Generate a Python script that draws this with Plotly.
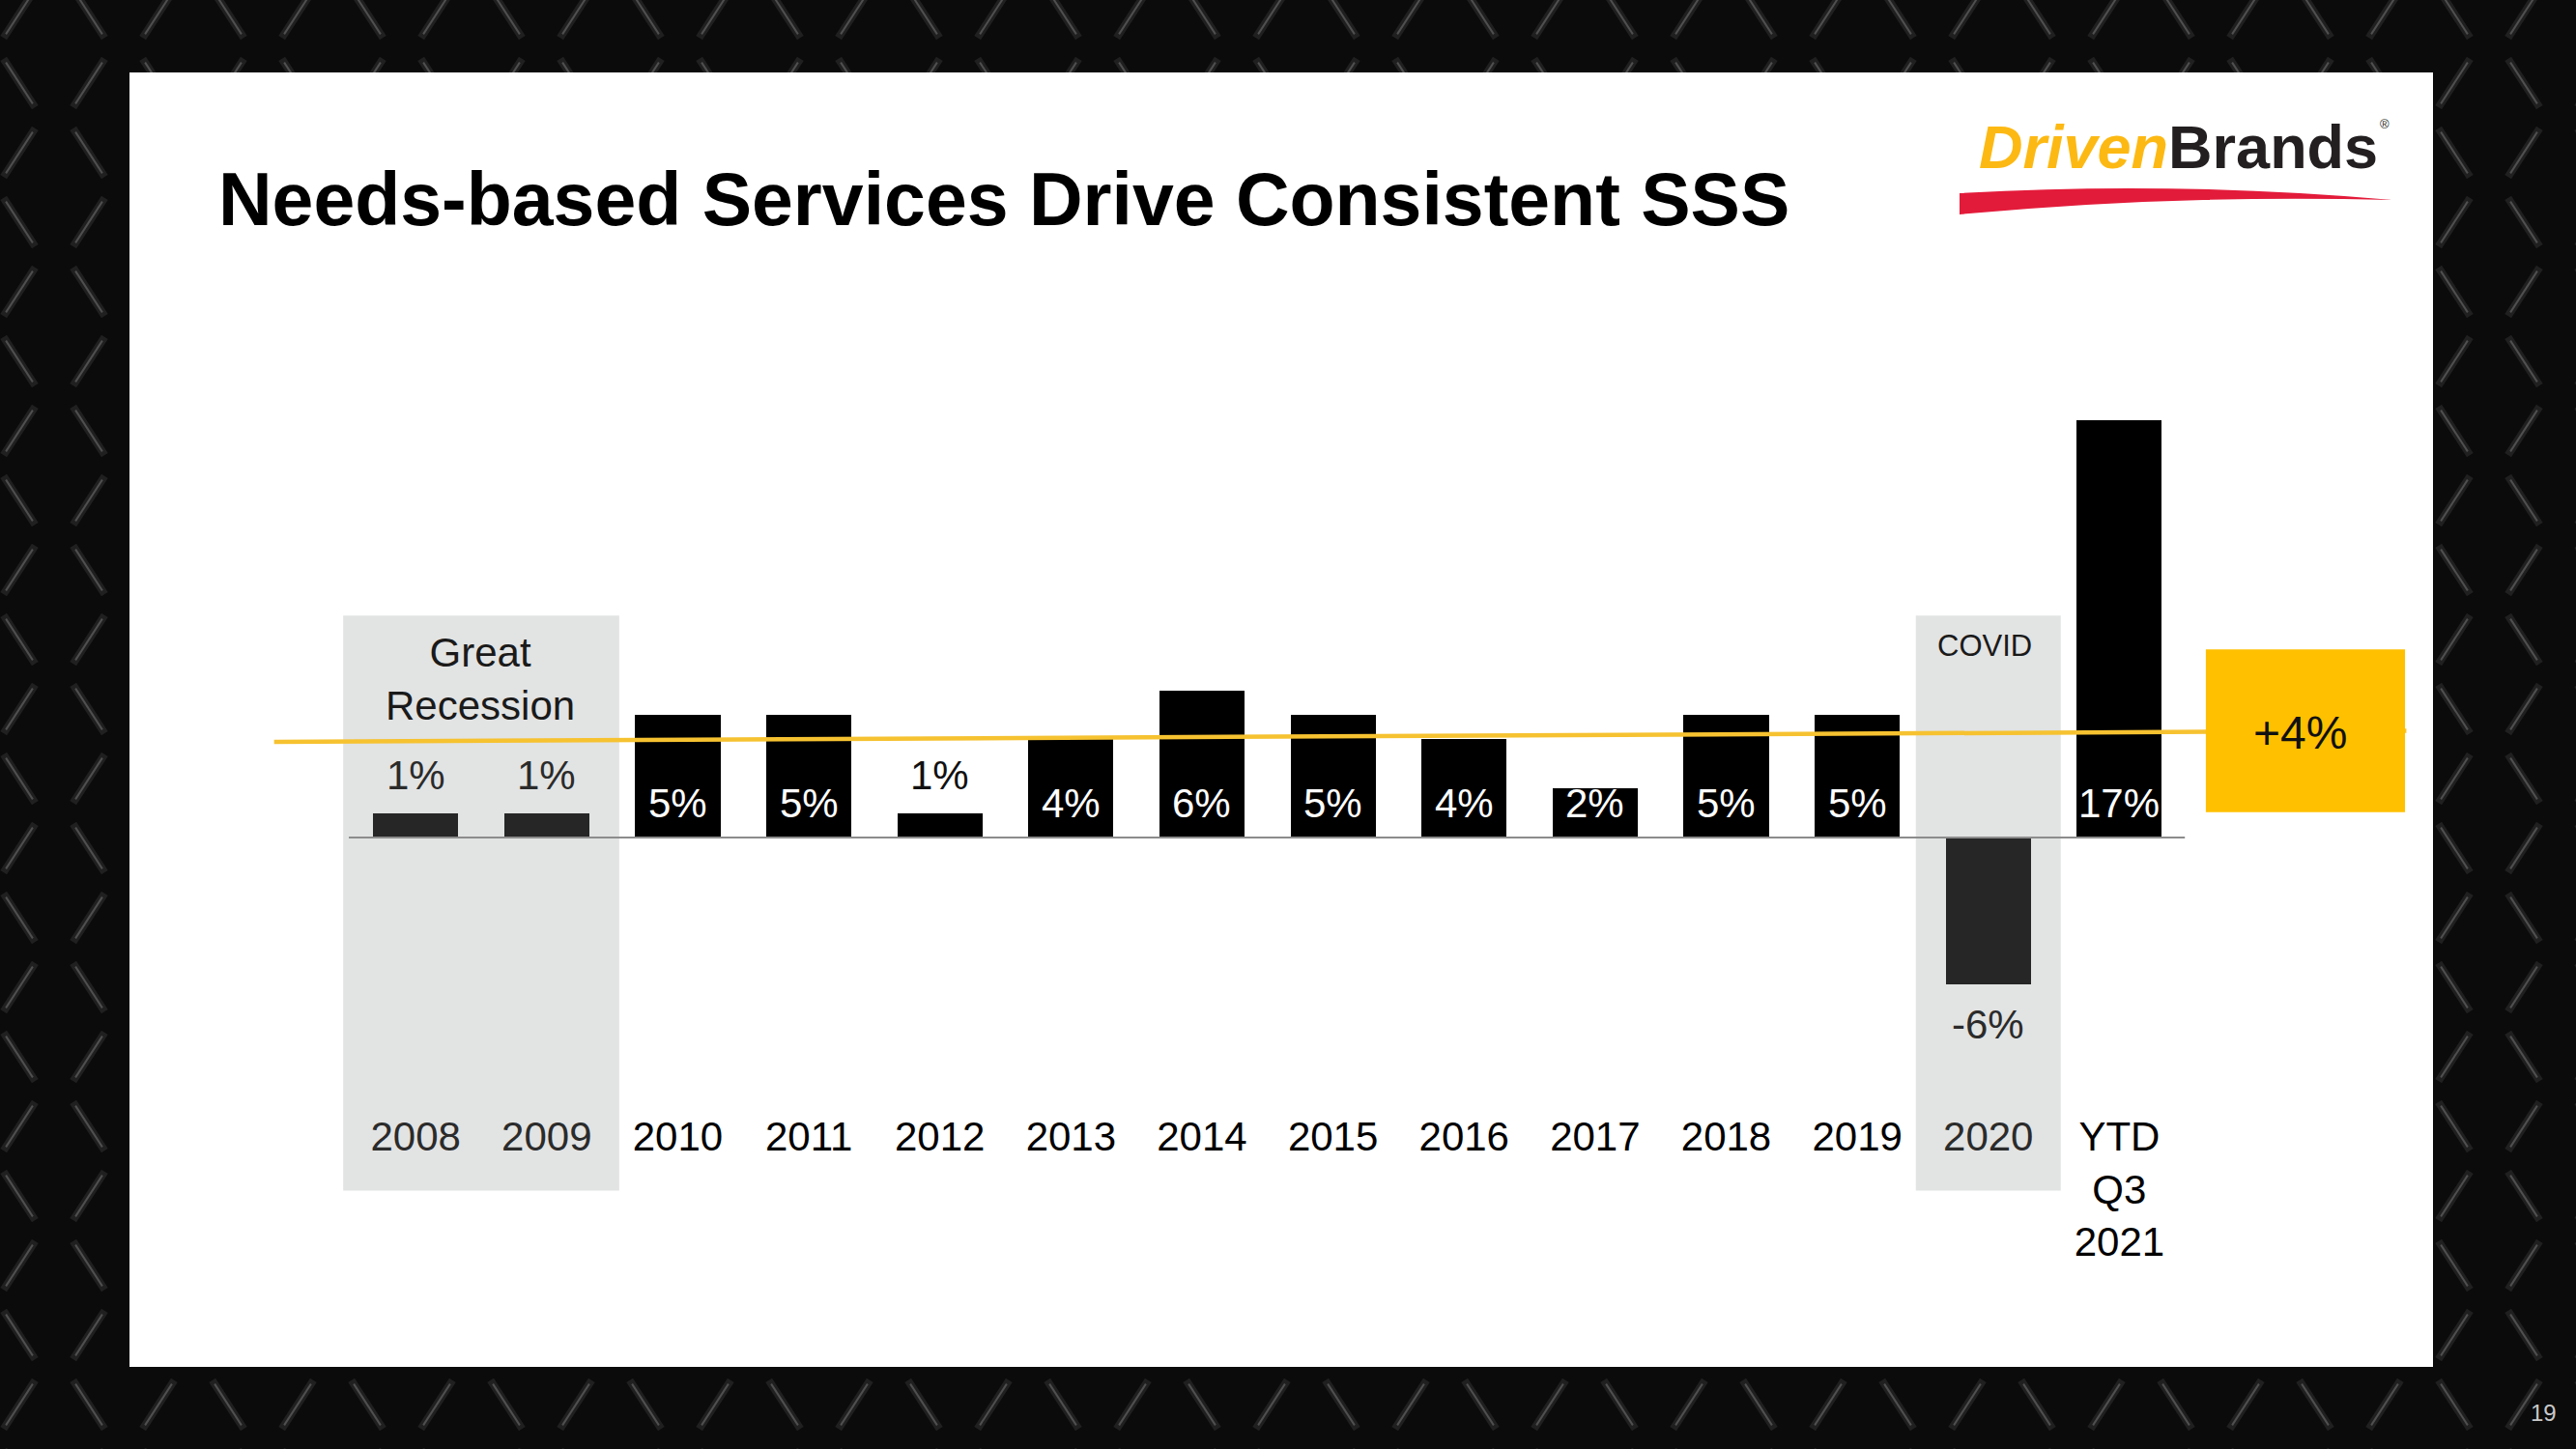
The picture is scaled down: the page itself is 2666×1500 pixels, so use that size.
import math
import plotly.graph_objects as go

# ---------------- data ----------------
categories = ["2008", "2009", "2010", "2011", "2012", "2013", "2014",
              "2015", "2016", "2017", "2018", "2019", "2020", "YTD Q3 2021"]
tick_labels = ["2008", "2009", "2010", "2011", "2012", "2013", "2014",
               "2015", "2016", "2017", "2018", "2019", "2020", "YTD<br>Q3<br>2021"]
sss_growth = [1, 1, 5, 5, 1, 4, 6, 5, 4, 2, 5, 5, -6, 17]
sss_labels = ["1%", "1%", "5%", "5%", "1%", "4%", "6%", "5%", "4%", "2%",
              "5%", "5%", "-6%", "17%"]
trend_values = [3.9, 4.35]          # yellow average/trend line (start, end)
average_label = "+4%"
shaded_periods = [("Great<br>Recession", "2008", "2009"),
                  ("COVID", "2020", "2020")]
title_text = "Needs-based Services Drive Consistent SSS"
page_number = "19"

# ---------------- geometry / style ----------------
W, H = 2666, 1500
X0_PX, STEP_PX = 430.2, 135.63      # centre of first category, category step
ZERO_PX, UNIT_PX = 867.0, 25.4      # pixel row of 0 %, pixels per 1 %
x_range = [(0 - X0_PX) / STEP_PX, (W - X0_PX) / STEP_PX]
y_range = [-(H - ZERO_PX) / UNIT_PX, ZERO_PX / UNIT_PX]

FONT = "Liberation Sans, Arial, sans-serif"
BG = "#0b0b0b"
SHADE = "#e2e3e3"
BAR = "#000000"
BAR_SHADED = "#262626"
TXT_SHADED = "#2b2b2b"
LINE_YELLOW = "#f6c230"
BOX_YELLOW = "#ffc000"
PANEL = (134, 75, 2518, 1415)       # left, top, right, bottom (px)


def px(x):
    return x / W


def py(y):
    return 1 - y / H


positions = list(range(len(categories)))
shaded_idx = set()
for _, a, b in shaded_periods:
    for k in range(categories.index(a), categories.index(b) + 1):
        shaded_idx.add(k)

bar_colors = [BAR_SHADED if i in shaded_idx else BAR for i in positions]
tick_text = [
    f"<span style='color:{TXT_SHADED}'>{t}</span>" if i in shaded_idx else t
    for i, t in enumerate(tick_labels)
]

fig = go.Figure()
fig.add_trace(go.Bar(
    x=positions, y=sss_growth, width=0.65,
    marker=dict(color=bar_colors, line=dict(width=0)),
    hovertext=categories, hoverinfo="text+y", showlegend=False,
))
fig.add_trace(go.Scatter(
    x=[-1.08, 15.19], y=trend_values, mode="lines",
    line=dict(color=LINE_YELLOW, width=4.5),
    hoverinfo="skip", showlegend=False,
))

shapes = []
# diamond-plate texture in the dark slide border
S = 72
L = 30          # half length of a streak
ang = math.radians(57)
for i in range(-1, W // S + 2):
    for j in range(-1, H // S + 2):
        cx, cy = i * S + 20, j * S + 14
        inside = (PANEL[0] + 40 < cx < PANEL[2] - 40) and (PANEL[1] + 40 < cy < PANEL[3] - 40)
        if inside:
            continue
        sgn = 1 if (i + j) % 2 == 0 else -1
        dx, dy = L * math.cos(ang) * sgn, L * math.sin(ang)
        shapes.append(dict(type="line", xref="paper", yref="paper",
                           x0=px(cx - dx), y0=py(cy + dy), x1=px(cx + dx), y1=py(cy - dy),
                           line=dict(color="rgba(32,32,32,1)", width=8), layer="below"))
        shapes.append(dict(type="line", xref="paper", yref="paper",
                           x0=px(cx - dx * 0.85), y0=py(cy + dy * 0.85),
                           x1=px(cx + dx * 0.85), y1=py(cy - dy * 0.85),
                           line=dict(color="rgba(125,125,125,0.5)", width=2), layer="below"))
# white slide panel
shapes.append(dict(type="rect", xref="paper", yref="paper",
                   x0=px(PANEL[0]), x1=px(PANEL[2]), y0=py(PANEL[3]), y1=py(PANEL[1]),
                   fillcolor="#ffffff", line=dict(width=0), layer="below"))
# shaded periods
for _, a, b in shaded_periods:
    shapes.append(dict(type="rect", xref="x", yref="y",
                       x0=categories.index(a) - 0.553, x1=categories.index(b) + 0.553,
                       y0=-14.39, y1=9.05,
                       fillcolor=SHADE, line=dict(width=0), layer="below"))
# zero baseline
shapes.append(dict(type="line", xref="x", yref="y", x0=-0.51, x1=13.5, y0=0, y1=0,
                   line=dict(color="#8c8c8c", width=2), layer="above"))
# average callout box
shapes.append(dict(type="rect", xref="x", yref="y", x0=13.66, x1=15.18, y0=1.03, y1=7.67,
                   fillcolor=BOX_YELLOW, line=dict(width=0), layer="above"))
# logo swoosh
sw = [(2028, 200), (2250, 187), (2476, 207), (2250, 201), (2028, 222)]
path = (f"M {px(sw[0][0])},{py(sw[0][1])} Q {px(sw[1][0])},{py(sw[1][1])} "
        f"{px(sw[2][0])},{py(sw[2][1])} Q {px(sw[3][0])},{py(sw[3][1])} "
        f"{px(sw[4][0])},{py(sw[4][1])} Z")
shapes.append(dict(type="path", xref="paper", yref="paper", path=path,
                   fillcolor="#e31b3a", line=dict(width=0), layer="above"))

annotations = []
# value labels
for i, (v, lab) in enumerate(zip(sss_growth, sss_labels)):
    if v >= 2:
        annotations.append(dict(x=i, y=0, text=lab, showarrow=False, yanchor="bottom",
                                yshift=10, font=dict(family=FONT, size=42, color="#ffffff")))
    elif v >= 0:
        col = TXT_SHADED if i in shaded_idx else "#111111"
        annotations.append(dict(x=i, y=v, text=lab, showarrow=False, yanchor="bottom",
                                yshift=14, font=dict(family=FONT, size=42, color=col)))
    else:
        annotations.append(dict(x=i, y=v, text=lab, showarrow=False, yanchor="top",
                                yshift=-16, font=dict(family=FONT, size=42, color=TXT_SHADED)))
# shaded period labels
annotations.append(dict(x=0.49, y=6.44, text=shaded_periods[0][0], showarrow=False,
                        yanchor="middle", font=dict(family=FONT, size=42, color="#1a1a1a")))
annotations.append(dict(x=11.97, y=7.83, text=shaded_periods[1][0], showarrow=False,
                        yanchor="middle", font=dict(family=FONT, size=31, color="#1a1a1a")))
# average label
annotations.append(dict(x=14.38, y=4.29, text=average_label, showarrow=False,
                        yanchor="middle", font=dict(family=FONT, size=48, color="#111111")))
# logo
annotations.append(dict(xref="paper", yref="paper", x=px(2046), y=py(152), xanchor="left",
                        yanchor="middle", showarrow=False,
                        text="<span style='color:#fdb913'><i>Driven</i></span>"
                             "<span style='color:#231f20'>Brands</span>",
                        font=dict(family=FONT, size=63, weight="bold")))
annotations.append(dict(xref="paper", yref="paper", x=px(2468), y=py(128), showarrow=False,
                        xanchor="center", yanchor="middle",
                        text="®", font=dict(family=FONT, size=13, color="#231f20")))
# page number
annotations.append(dict(xref="paper", yref="paper", x=px(2632), y=py(1462), showarrow=False,
                        xanchor="center", yanchor="middle",
                        text=page_number, font=dict(family=FONT, size=24, color="#c8c8c8")))

fig.update_layout(
    width=W, height=H, autosize=False,
    margin=dict(l=0, r=0, t=0, b=0, pad=0),
    paper_bgcolor=BG, plot_bgcolor=BG,
    title=dict(text=title_text, x=px(226), xanchor="left", y=py(206), yanchor="middle",
               xref="paper", yref="paper",
               font=dict(family=FONT, size=77, color="#000000", weight="bold")),
    xaxis=dict(range=x_range, domain=[0, 1], anchor="free", position=py(1148),
               tickmode="array", tickvals=positions, ticktext=tick_text,
               tickfont=dict(family=FONT, size=42, color="#000000"),
               showgrid=False, zeroline=False, showline=False, ticks="", fixedrange=True),
    yaxis=dict(range=y_range, domain=[0, 1], showgrid=False, zeroline=False,
               showline=False, showticklabels=False, ticks="", fixedrange=True),
    shapes=shapes, annotations=annotations,
    showlegend=False, bargap=0,
)

fig.write_html("out.html")
